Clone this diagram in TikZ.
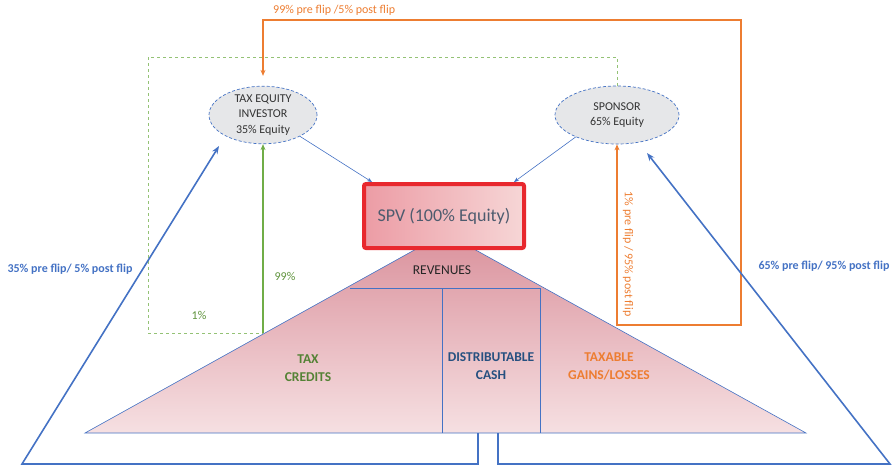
\documentclass[tikz,border=0pt]{standalone}
\usepackage{fontspec}
\setmainfont{Carlito}
\definecolor{flowblue}{RGB}{68,114,196}
\definecolor{floworange}{RGB}{237,125,49}
\definecolor{flowgreen}{RGB}{112,173,71}
\definecolor{darkgreen}{RGB}{84,130,53}
\definecolor{navy}{RGB}{38,80,128}
\definecolor{spvred}{RGB}{232,40,46}
\definecolor{slate}{RGB}{77,91,110}
\definecolor{partygray}{RGB}{230,231,233}
\definecolor{revtop}{RGB}{218,145,156}
\definecolor{revbot}{RGB}{246,224,226}
\definecolor{spvleft}{RGB}{236,156,165}
\definecolor{spvmid}{RGB}{232,172,170}
\definecolor{spvright}{RGB}{246,214,214}
\usetikzlibrary{shapes.geometric,arrows.meta,calc}

\begin{document}
\begin{tikzpicture}[x=1pt,y=-1pt,
    every node/.style={font=\fontsize{12}{15.5}\selectfont,align=center,inner sep=0pt},
    party/.style={ellipse,draw=flowblue,densely dashed,line width=0.7pt,fill=partygray,text=black!80,minimum width=108pt,minimum height=56pt},
    link/.style={flowblue,line width=0.6pt,-{Stealth[length=5pt,width=4pt]}},
    flow/.style={flowblue,line width=1.6pt,-{Stealth[length=8pt,width=6pt]}},
    orangeflow/.style={floworange,line width=1.6pt},
    greenflow/.style={flowgreen,line width=1.6pt},
    part/.style={font=\bfseries\fontsize{13.5}{18}\selectfont},
    share/.style={font=\bfseries\fontsize{12}{14}\selectfont,text=flowblue}]
  \useasboundingbox (0,0) rectangle (893,466);
  % Revenue triangle
  \coordinate (apex) at (445,233);
  \coordinate (baseL) at (85,433);
  \coordinate (baseR) at (806,433);
  \shade[top color=revtop,bottom color=revbot] (baseL) -- (apex) -- (baseR) -- cycle;
  \draw[flowblue,line width=0.6pt] (baseL) -- (apex) -- (baseR) -- cycle;
  \draw[flowblue,line width=0.6pt] (350,288) -- (540,288) -- (540,433) (442,288) -- (442,433);
  \node[text=black!85,font=\fontsize{13.5}{15}\selectfont] (rev) at (442,270) {REVENUES};
  \node[part,text=darkgreen] (credits) at (308,368) {TAX\\CREDITS};
  \node[part,text=navy] (cash) at (491,366) {DISTRIBUTABLE\\CASH};
  \node[part,text=floworange] (gains) at (609,366) {TAXABLE\\GAINS/LOSSES};
  % Parties
  \node[party] (tei) at (263,115) {TAX EQUITY\\INVESTOR\\35\% Equity};
  \node[party,minimum width=124pt,minimum height=58pt] (sponsor) at (617,115) {SPONSOR\\65\% Equity};
  \node[draw=spvred,line width=4pt,rounded corners=2pt,left color=spvleft,middle color=spvmid,right color=spvright,
        minimum width=160pt,minimum height=64pt,text=slate,font=\fontsize{18}{20}\selectfont] (spv) at (444,216) {SPV (100\% Equity)};
  % Corners
  \coordinate (otop) at (263,20);
  \coordinate (ocorner) at (741,20);
  \coordinate (obox) at (741,325);
  \coordinate (obase) at (617,325);
  \coordinate (gtop) at (148,57);
  \coordinate (gfoot) at (263,333);
  \coordinate (cashL) at (478,433);
  \coordinate (cashR) at (498,433);
  \coordinate (cornerL) at (22,464);
  \coordinate (cornerR) at (890,464);
  \coordinate (teiTip) at (219,146);
  \coordinate (spTip) at (647,153);
  % Flows
  \draw[orangeflow,{Stealth[length=6pt,width=5pt]}-{Stealth[length=6pt,width=5pt]}] ([yshift=10pt]tei.north) -- (otop) -- (ocorner) -- (obox) -- (obase) -- (sponsor.south);
  \draw[flowgreen!75,dashed,line width=0.8pt] (sponsor.north) |- (gtop) |- (gfoot);
  \draw[greenflow,-{Stealth[length=6pt,width=5pt]}] (gfoot) -- (gfoot |- tei.south);
  \draw[link] (tei.-30) -- ($(spv.north west)+(10,0)$);
  \draw[link] (sponsor.-152) -- ($(spv.north east)+(-12,0)$);
  \draw[flow] (cashL) |- (cornerL) -- (teiTip);
  \draw[flow] (cashR) |- (cornerR) -- (spTip);
  % Labels
  \node[text=floworange,anchor=west] (prepost) at (273,10) {99\% pre flip /5\% post flip};
  \node[text=floworange,rotate=-90] (flipR) at (628,254) {1\% pre flip / 95\% post flip};
  \node[text=flowgreen!85!black] (gmain) at (285,276) {99\%};
  \node[text=flowgreen!85!black] (gside) at (199,315) {1\%};
  \node[share] (teishare) at (70,269) {35\% pre flip/ 5\% post flip};
  \node[share] (spshare) at (824,266) {65\% pre flip/ 95\% post flip};
\end{tikzpicture}
\end{document}
